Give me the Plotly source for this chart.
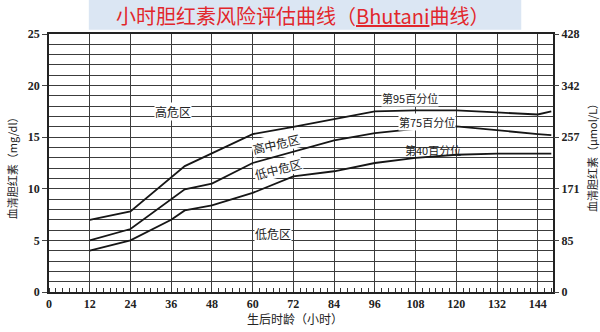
import plotly.graph_objects as go

# ---- data ----
hours_95 = [12, 24, 40, 60, 72, 84, 96, 108, 120, 132, 144, 148]
p95 = [7.0, 7.8, 12.2, 15.3, 16.0, 16.75, 17.5, 17.6, 17.6, 17.4, 17.2, 17.5]

hours_75 = [12, 24, 40, 48, 60, 72, 84, 96, 108, 120, 132, 144, 148]
p75 = [5.0, 6.1, 9.95, 10.5, 12.5, 13.6, 14.7, 15.4, 15.8, 16.05, 15.65, 15.3, 15.2]

hours_40 = [12, 24, 36, 40, 48, 60, 72, 84, 96, 108, 120, 132, 144, 148]
p40 = [4.0, 5.0, 7.0, 7.9, 8.4, 9.6, 11.2, 11.7, 12.5, 13.0, 13.3, 13.4, 13.4, 13.4]

x_ticks = [0, 12, 24, 36, 48, 60, 72, 84, 96, 108, 120, 132, 144]
y_ticks = [0, 5, 10, 15, 20, 25]
y2_ticklabels = ["0", "85", "171", "257", "342", "428"]

zone_labels = ["高危区", "高中危区", "低中危区", "低危区"]
zone_x = [36.5, 67, 67.5, 66]
zone_y = [17.45, 14.4, 12.0, 5.7]
zone_angle = [0, -13, -14, 0]

pct_labels = ["第95百分位", "第75百分位", "第40百分位"]
pct_x = [106.5, 111.5, 113.0]
pct_y = [18.8, 16.45, 13.75]
pct_bg = ["white", "white", "rgba(0,0,0,0)"]

title_text = "小时胆红素风险评估曲线（<u>Bhutani</u>曲线）"
x_title = "生后时龄（小时）"
y_title = "血清胆红素（mg/dl）"
y2_title = "血清胆红素（μmol/L）"

# ---- figure ----
fig = go.Figure()
line_style = dict(color="#161616", width=1.8)
for xs, ys, nm in [(hours_95, p95, "95"), (hours_75, p75, "75"), (hours_40, p40, "40")]:
    fig.add_trace(go.Scatter(x=xs, y=ys, mode="lines", line=line_style,
                             name=nm, showlegend=False, hoverinfo="skip"))

# invisible trace so the right axis is drawn
fig.add_trace(go.Scatter(x=[0], y=[0], yaxis="y2", mode="markers",
                         marker=dict(opacity=0), showlegend=False, hoverinfo="skip"))

tick_font = dict(family="Liberation Serif", size=12, color="#222", weight="bold")
grid_col = "#3c3c3c"

fig.update_layout(
    width=600, height=332,
    margin=dict(l=49, r=47, t=34, b=40),
    paper_bgcolor="white", plot_bgcolor="white",
    xaxis=dict(range=[0, 148.5], tickvals=x_ticks, showgrid=True,
               gridcolor=grid_col, gridwidth=1.4, zeroline=False,
               showline=True, linecolor="#222", linewidth=1.5, mirror=True,
               ticks="", tickfont=tick_font,
               minor=dict(dtick=2, tick0=0, ticks="inside", ticklen=4,
                          tickcolor="#333", tickwidth=1, showgrid=False)),
    yaxis=dict(range=[0, 25], tickvals=y_ticks, showgrid=True,
               gridcolor=grid_col, gridwidth=1.4, zeroline=False,
               showline=True, linecolor="#222", linewidth=1.5, mirror=True,
               ticks="outside", ticklen=5, tickcolor="#444", tickfont=tick_font,
               minor=dict(dtick=1, tick0=0, showgrid=True, gridcolor=grid_col,
                          gridwidth=1.4, ticks="")),
    yaxis2=dict(range=[0, 25], overlaying="y", side="right",
                tickvals=y_ticks, ticktext=y2_ticklabels, showgrid=False,
                zeroline=False, ticks="outside", ticklen=5, tickcolor="#444",
                tickfont=tick_font),
    shapes=[dict(type="rect", xref="paper", yref="paper",
                 x0=0.079, x1=0.937, y0=1.016, y1=1.135,
                 fillcolor="#dbe6f3", line=dict(width=0), layer="below")],
)

cjk = "Noto Sans CJK SC"
annotations = []
annotations.append(dict(text=title_text, xref="paper", yref="paper", x=0.502, y=1.072,
                        xanchor="center", yanchor="middle", showarrow=False,
                        font=dict(family=cjk, size=20, color="#e2262c")))
annotations.append(dict(text=x_title, xref="paper", yref="paper", x=0.488, y=-0.102,
                        xanchor="center", yanchor="middle", showarrow=False,
                        font=dict(family=cjk, size=12, color="#222")))
annotations.append(dict(text=y_title, xref="paper", yref="paper", x=-0.074, y=0.49,
                        xanchor="center", yanchor="middle", textangle=-90, showarrow=False,
                        font=dict(family=cjk, size=11, color="#222")))
annotations.append(dict(text=y2_title, xref="paper", yref="paper", x=1.077, y=0.53,
                        xanchor="center", yanchor="middle", textangle=-90, showarrow=False,
                        font=dict(family=cjk, size=11, color="#222")))
for t, xx, yy, a in zip(zone_labels, zone_x, zone_y, zone_angle):
    annotations.append(dict(text=t, x=xx, y=yy, xref="x", yref="y", textangle=a,
                            xanchor="center", yanchor="middle",
                            showarrow=False, bgcolor="white", borderpad=0,
                            font=dict(family=cjk, size=12, color="#222")))
for t, xx, yy, bg in zip(pct_labels, pct_x, pct_y, pct_bg):
    annotations.append(dict(text=t, x=xx, y=yy, xref="x", yref="y",
                            xanchor="center", yanchor="middle",
                            showarrow=False, bgcolor=bg, borderpad=0,
                            font=dict(family=cjk, size=11, color="#222")))
fig.update_layout(annotations=annotations)

fig.write_html("out.html")
